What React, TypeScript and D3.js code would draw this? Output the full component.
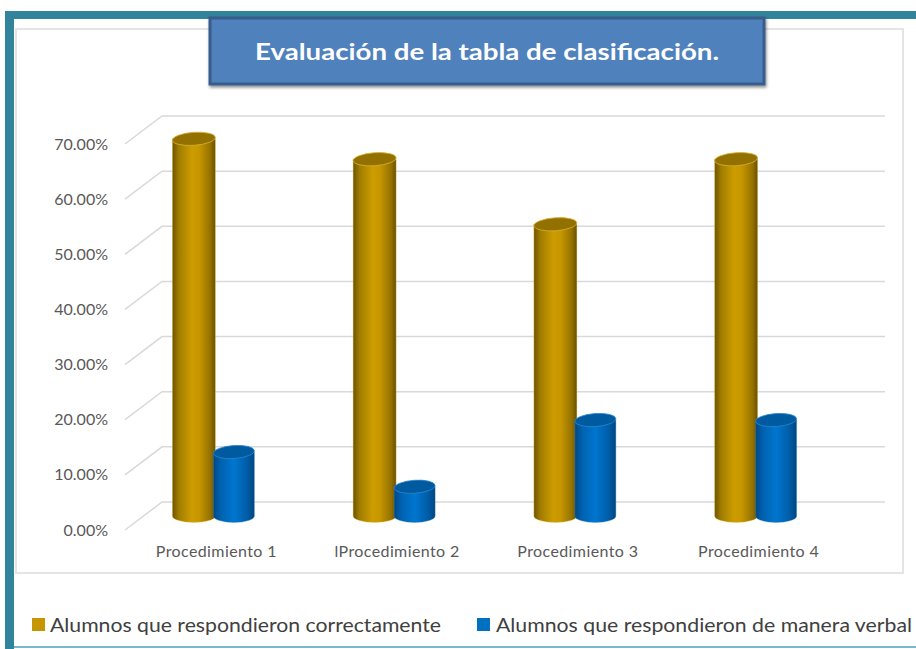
import React from 'react';
import * as d3 from 'd3';

// chart data
const categories = ['Procedimiento 1', 'lProcedimiento 2', 'Procedimiento 3', 'Procedimiento 4'];
const correctValues = [68.4, 64.7, 52.9, 64.7];
const verbalValues = [11.6, 5.3, 17.4, 17.4];
const seriesNames = ['Alumnos que respondieron correctamente', 'Alumnos que respondieron de manera verbal'];
const yTicks = [0, 10, 20, 30, 40, 50, 60, 70];

const W = 916;
const H = 649;
const FONT = 'Lato, "Open Sans", sans-serif';

// 3d depth offset (front plane vs back wall)
const DX = 18.5;
const DY = 14;

const App: React.FC = () => {
  const xScale = d3.scaleBand<string>().domain(categories).range([125, 848]);
  const yScale = d3.scaleLinear().domain([0, 70]).range([516, 130]);
  const fmt = d3.format('.2f');

  const cylinder = (key: string, value: number, x0: number, w: number, kind: 'gold' | 'blue') => {
    const yTop = yScale(value);
    const yBase = yScale(0);
    const rx = w / 2;
    const ry = 6.5;
    const cx = x0 + rx;
    const body = `M ${x0} ${yTop} L ${x0} ${yBase} A ${rx} ${ry} 0 0 0 ${x0 + w} ${yBase} L ${x0 + w} ${yTop} Z`;
    return (
      <g key={key}>
        <path d={body} fill={`url(#grad-${kind})`} stroke={kind === 'gold' ? '#E8C850' : '#3C8FD0'} strokeWidth={0.6} strokeOpacity={0.6} />
        <ellipse
          cx={cx}
          cy={yTop}
          rx={rx}
          ry={ry}
          transform={`rotate(-4 ${cx} ${yTop})`}
          fill={kind === 'gold' ? '#937100' : '#005AA0'}
          stroke={kind === 'gold' ? '#D8B030' : '#2A86D0'}
          strokeWidth={0.8}
        />
      </g>
    );
  };

  return (
    <svg width={W} height={H} style={{ position: 'absolute', left: 0, top: 0, background: '#fff' }}>
      <defs>
        <linearGradient id="grad-gold" x1="0" x2="1" y1="0" y2="0">
          <stop offset="0%" stopColor="#6E5300" />
          <stop offset="15%" stopColor="#A07D00" />
          <stop offset="45%" stopColor="#CC9C00" />
          <stop offset="62%" stopColor="#C79700" />
          <stop offset="88%" stopColor="#957200" />
          <stop offset="100%" stopColor="#6A5000" />
        </linearGradient>
        <linearGradient id="grad-blue" x1="0" x2="1" y1="0" y2="0">
          <stop offset="0%" stopColor="#004883" />
          <stop offset="18%" stopColor="#0062B0" />
          <stop offset="50%" stopColor="#0076CF" />
          <stop offset="82%" stopColor="#005DA8" />
          <stop offset="100%" stopColor="#00457F" />
        </linearGradient>
        <filter id="shadow" x="-5%" y="-10%" width="110%" height="130%">
          <feDropShadow dx="1" dy="2" stdDeviation="1.5" floodColor="#000" floodOpacity="0.45" />
        </filter>
      </defs>

      {/* outer teal frame */}
      <rect x={5} y={11} width={W} height={8} fill="#31849B" />
      <rect x={5} y={11} width={9} height={H} fill="#31849B" />
      <rect x={14} y={646} width={W} height={2} fill="#79B8C8" />

      {/* inner chart box */}
      <rect x={16} y={29} width={887} height={544} fill="#fff" stroke="#E4E4E4" strokeWidth={2} />

      {/* gridlines */}
      {yTicks.map(t => {
        const y = yScale(t);
        return (
          <g key={t}>
            <polyline
              points={`${xScale.range()[0]},${y + DY} ${xScale.range()[0] + 2 * DX},${y - DY} ${xScale.range()[1] + 2 * DX},${y - DY}`}
              fill="none"
              stroke="#D9D9D9"
              strokeWidth={1.5}
            />
            <text x={108} y={y + DY} dy="0.35em" textAnchor="end" fontFamily={FONT} fontSize={16} fill="#595959">
              {fmt(t)}%
            </text>
          </g>
        );
      })}

      {/* cylinders */}
      {categories.map((c, i) => {
        const center = (xScale(c) || 0) + xScale.bandwidth() / 2;
        return (
          <g key={c}>
            {cylinder(`g${i}`, correctValues[i], center - 43, 43, 'gold')}
            {cylinder(`b${i}`, verbalValues[i], center - 2, 41, 'blue')}
          </g>
        );
      })}

      {/* category labels */}
      {categories.map(c => (
        <text
          key={c}
          x={(xScale(c) || 0) + xScale.bandwidth() / 2 + 1}
          y={551}
          dy="0.35em"
          textAnchor="middle"
          fontFamily={FONT}
          fontSize={16}
          letterSpacing={0.4}
          fill="#595959"
        >
          {c}
        </text>
      ))}

      {/* title box */}
      <rect x={210} y={18} width={554} height={66} fill="#4F81BD" stroke="#385D8A" strokeWidth={3} filter="url(#shadow)" />
      <text
        x={487}
        y={52}
        dy="0.35em"
        textAnchor="middle"
        fontFamily={FONT}
        fontWeight="bold"
        fontSize={23}
        fill="#fff"
        textLength={464}
        lengthAdjust="spacingAndGlyphs"
      >
        Evaluación de la tabla de clasificación.
      </text>

      {/* legend */}
      <rect x={32} y={618} width={13} height={13} fill="#C59600" />
      <text x={50} y={625} dy="0.35em" fontFamily={FONT} fontSize={20} fill="#404040" textLength={391} lengthAdjust="spacingAndGlyphs">
        {seriesNames[0]}
      </text>
      <rect x={477} y={618} width={13} height={13} fill="#0070C0" />
      <text x={496} y={625} dy="0.35em" fontFamily={FONT} fontSize={20} fill="#404040" textLength={416} lengthAdjust="spacingAndGlyphs">
        {seriesNames[1]}
      </text>
    </svg>
  );
};

export default App;
